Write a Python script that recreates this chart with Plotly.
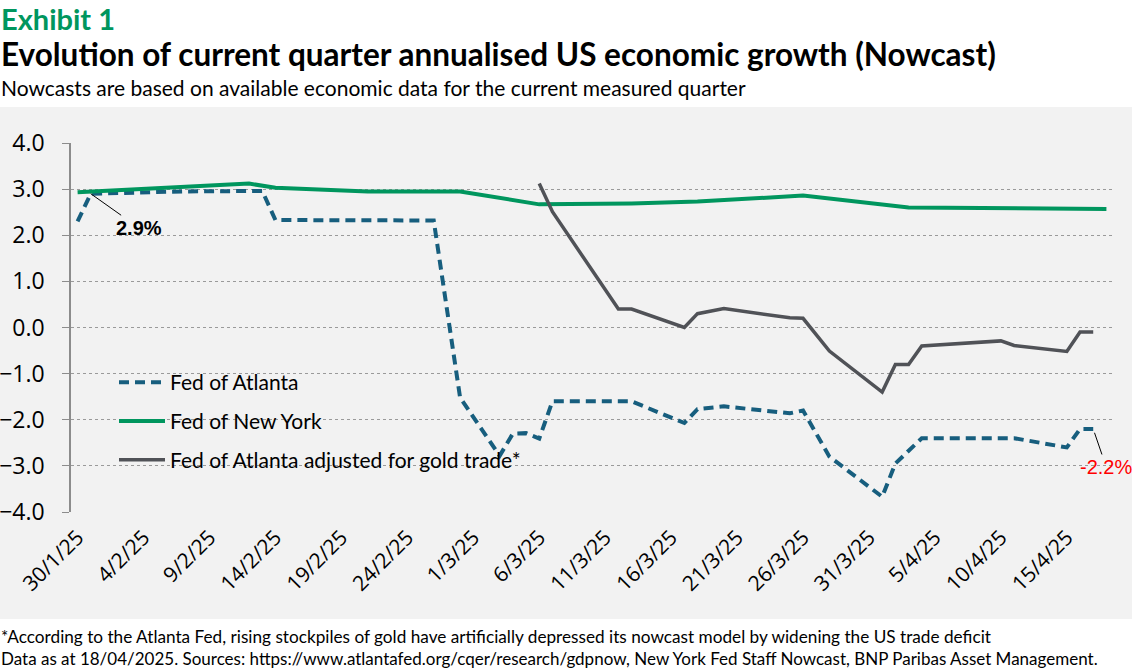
import plotly.graph_objects as go

# Fed of Atlanta GDPNow (dashed)
atl_dates = ["2025-01-30", "2025-01-31", "2025-02-07", "2025-02-13", "2025-02-14",
             "2025-02-26", "2025-02-28", "2025-03-03", "2025-03-04", "2025-03-05",
             "2025-03-06", "2025-03-07", "2025-03-13", "2025-03-17", "2025-03-18",
             "2025-03-20", "2025-03-25", "2025-03-26", "2025-03-28", "2025-04-01",
             "2025-04-02", "2025-04-04", "2025-04-11", "2025-04-15", "2025-04-16",
             "2025-04-17"]
atl_vals = [2.3, 2.9, 2.95, 2.96, 2.33,
            2.32, -1.52, -2.78, -2.3, -2.29,
            -2.41, -1.6, -1.6, -2.07, -1.77,
            -1.71, -1.86, -1.8, -2.8, -3.67,
            -2.95, -2.4, -2.4, -2.6, -2.2,
            -2.2]

# New York Fed staff nowcast
ny_dates = ["2025-01-30", "2025-02-12", "2025-02-14", "2025-02-21", "2025-02-28",
            "2025-03-06", "2025-03-13", "2025-03-18", "2025-03-26", "2025-04-03",
            "2025-04-18"]
ny_vals = [2.93, 3.12, 3.03, 2.95, 2.95,
           2.67, 2.69, 2.73, 2.86, 2.60,
           2.57]

# Atlanta adjusted for gold trade
gold_dates = ["2025-03-06", "2025-03-07", "2025-03-12", "2025-03-13", "2025-03-17",
              "2025-03-18", "2025-03-20", "2025-03-25", "2025-03-26", "2025-03-28",
              "2025-04-01", "2025-04-02", "2025-04-03", "2025-04-04", "2025-04-10",
              "2025-04-11", "2025-04-15", "2025-04-16", "2025-04-17"]
gold_vals = [3.12, 2.51, 0.4, 0.4, 0.0,
             0.3, 0.41, 0.21, 0.2, -0.51,
             -1.4, -0.8, -0.8, -0.4, -0.29,
             -0.39, -0.52, -0.1, -0.1]

tick_dates = ["2025-01-30", "2025-02-04", "2025-02-09", "2025-02-14", "2025-02-19",
              "2025-02-24", "2025-03-01", "2025-03-06", "2025-03-11", "2025-03-16",
              "2025-03-21", "2025-03-26", "2025-03-31", "2025-04-05", "2025-04-10",
              "2025-04-15"]
tick_labels = ["30/1/25", "4/2/25", "9/2/25", "14/2/25", "19/2/25",
               "24/2/25", "1/3/25", "6/3/25", "11/3/25", "16/3/25",
               "21/3/25", "26/3/25", "31/3/25", "5/4/25", "10/4/25",
               "15/4/25"]

GREEN = "#00965E"
BLUE = "#175E7E"
GREY = "#505257"
BG = "#F2F2F2"
AXIS = "#8C8C8C"

W, H = 1132, 668
L, R, T, B = 71, 19, 143, 156
PW, PH = W - L - R, H - T - B


def px_x(px):
    return (px - L) / PW


def px_y(py):
    return (H - B - py) / PH


x_range = ["2025-01-29 12:00", "2025-04-18 12:00"]
DAY = 86400000

fig = go.Figure()
fig.add_trace(go.Scatter(x=atl_dates, y=atl_vals, mode="lines", name="Fed of Atlanta",
                         line=dict(color=BLUE, width=4, dash="10px,6px"),
                         legendgroup="a"))
fig.add_trace(go.Scatter(x=ny_dates, y=ny_vals, mode="lines", name="Fed of New York",
                         line=dict(color=GREEN, width=4), legendgroup="b"))
fig.add_trace(go.Scatter(x=gold_dates, y=gold_vals, mode="lines",
                         name="Fed of Atlanta adjusted for gold trade*",
                         line=dict(color=GREY, width=3.5), legendgroup="c"))

fig.update_layout(
    width=W, height=H,
    margin=dict(l=L, r=R, t=T, b=B, autoexpand=False),
    paper_bgcolor="white",
    plot_bgcolor=BG,
    font=dict(family="Lato, Open Sans, sans-serif", color="black"),
    xaxis=dict(type="date", range=x_range, tickvals=tick_dates, ticktext=tick_labels,
               tickangle=-45, showgrid=False, showline=False, ticks="",
               zeroline=False, ticklabelstandoff=8, automargin=False,
               tickfont=dict(family="Open Sans", size=21, color="black")),
    xaxis2=dict(type="date", range=x_range, overlaying="x", anchor="free", position=0.5,
                showline=True, linecolor=AXIS, linewidth=1.5, showgrid=False,
                showticklabels=False, ticks="outside", ticklen=6, tickcolor=AXIS,
                automargin=False, tick0="2025-01-29 12:00", dtick=5 * DAY,
                minor=dict(ticks="outside", ticklen=4, tickcolor=AXIS,
                           tick0="2025-01-29 12:00", dtick=DAY, showgrid=False)),
    yaxis=dict(range=[-4, 4], dtick=1, tickformat=".1f", showgrid=True,
               gridcolor="#9A9A9A", griddash="dot", gridwidth=1, zeroline=False,
               showline=True, linecolor=AXIS, linewidth=1.5, ticks="outside",
               ticklen=7, tickcolor=AXIS, ticklabelstandoff=13, automargin=False,
               tickfont=dict(family="Open Sans", size=23, color="black")),
    legend=dict(x=px_x(114), y=px_y(362), xanchor="left", yanchor="top",
                bgcolor="rgba(0,0,0,0)", font=dict(family="Lato", size=21),
                traceorder="grouped", tracegroupgap=8.5, itemwidth=46),
    showlegend=True,
)

fig.add_shape(type="rect", xref="paper", yref="paper", layer="below",
              x0=px_x(0), x1=px_x(W), y0=px_y(619), y1=px_y(107),
              fillcolor=BG, line_width=0)

fig.add_annotation(x=atl_dates[1], y=atl_vals[1], text="<b>2.9%</b>",
                   showarrow=True, arrowhead=0, arrowwidth=1, arrowcolor="black",
                   ax=48, ay=34, standoff=0,
                   font=dict(family="Liberation Sans", size=20, color="black"))
fig.add_annotation(x=atl_dates[-1], y=atl_vals[-1], text="-2.2%",
                   showarrow=True, arrowhead=0, arrowwidth=1, arrowcolor="black",
                   ax=13, ay=38, standoff=4,
                   font=dict(family="Liberation Sans", size=20, color="#FF0000"))

# header: exhibit number and title share one text block so the lines sit tight
header = ("<span style='color:#00965E;font-size:29px'><b>Exhibit 1</b></span><br>"
          "<span style='font-size:31.5px'><b>Evolution of current quarter annualised "
          "US economic growth (Nowcast)</b></span>")
fig.add_annotation(xref="paper", yref="paper", x=px_x(0), y=px_y(0),
                   xanchor="left", yanchor="top", align="left", showarrow=False,
                   text=header, borderpad=0,
                   font=dict(family="Lato", size=27.5, color="black"))

notes = [
    ("Nowcasts are based on available economic data for the current measured quarter", 87, 21),
    ("*According to the Atlanta Fed, rising stockpiles of gold have artificially depressed its nowcast model by widening the US trade deficit", 636, 17.2),
    ("Data as at 18/04/2025. Sources: https://www.atlantafed.org/cqer/research/gdpnow, New York Fed Staff Nowcast, BNP Paribas Asset Management.", 658, 17),
]
for text, py, size in notes:
    fig.add_annotation(xref="paper", yref="paper", x=px_x(0), y=px_y(py),
                       xanchor="left", yanchor="middle", showarrow=False, text=text,
                       borderpad=0, font=dict(family="Lato", size=size, color="black"))

fig.write_html("out.html", config={"displayModeBar": False},
               post_script="document.body.style.margin='0';")
